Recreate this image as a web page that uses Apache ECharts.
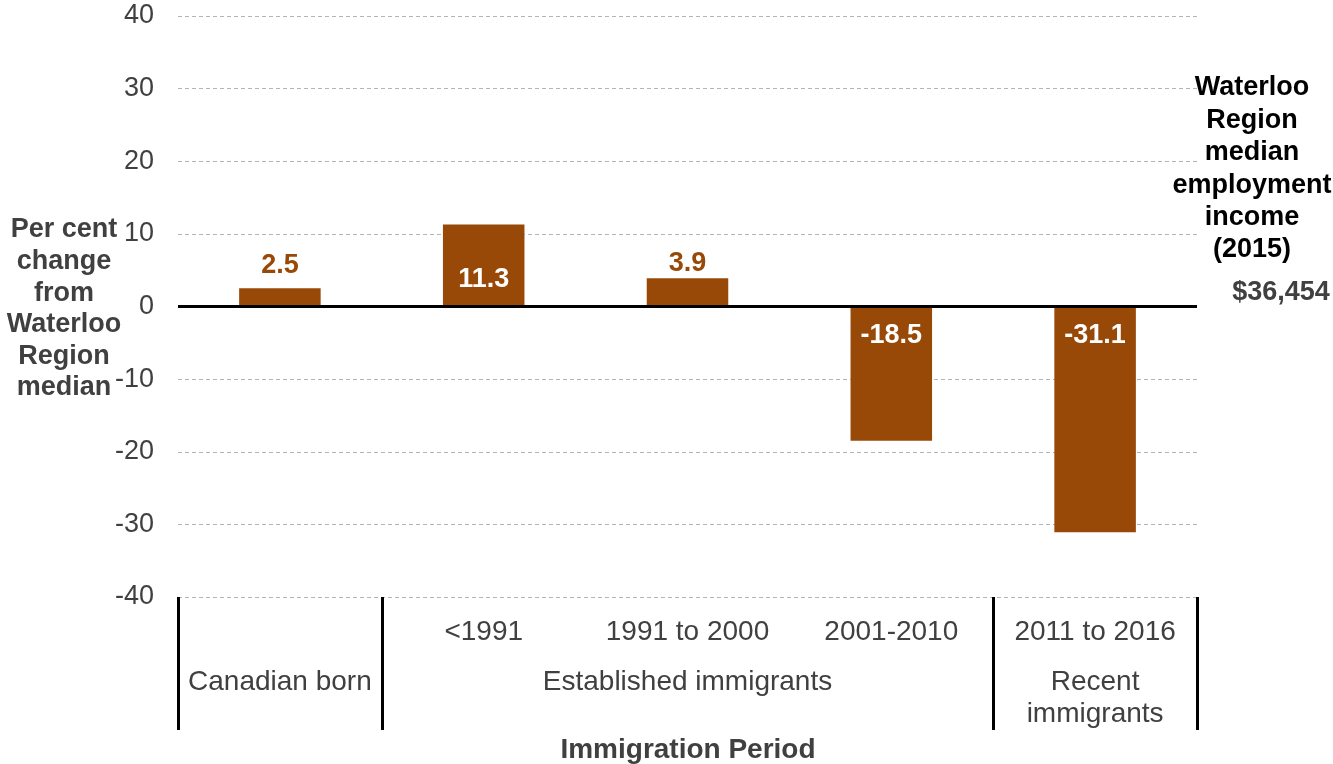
<!DOCTYPE html>
<html>
<head>
<meta charset="utf-8">
<script src="https://cdn.jsdelivr.net/npm/echarts@6/dist/echarts.min.js"></script>
<style>html,body{margin:0;padding:0;background:#fff;}#c{width:1333px;height:764px;}</style>
</head>
<body>
<div id="c"></div>
<script>
// ---- data ----
var periodLabels = ['', '<1991', '1991 to 2000', '2001-2010', '2011 to 2016'];
var groupLabels = ['Canadian born', '', 'Established immigrants', '', 'Recent\nimmigrants'];
var values = [2.5, 11.3, 3.9, -18.5, -31.1];
var yTicks = {min: -40, max: 40, interval: 10};
var yTitle = 'Per cent\nchange\nfrom\nWaterloo\nRegion\nmedian';
var rightTitle = 'Waterloo\nRegion\nmedian\nemployment\nincome\n(2015)';
var rightValue = '$36,454';
var xTitle = 'Immigration Period';

// ---- styling ----
var FONT = '"Liberation Sans", Arial, sans-serif';
var BROWN = '#984807';
var GREY = '#404040';
// label placement per bar (style only)
var labelStyles = [
  {position: 'top', color: BROWN, distance: 9},
  {position: 'insideBottom', color: '#ffffff', distance: 13},
  {position: 'top', color: BROWN, distance: 1},
  {position: 'insideTop', color: '#ffffff', distance: 16},
  {position: 'insideTop', color: '#ffffff', distance: 16}
];

var seriesData = values.map(function (v, i) {
  var ls = labelStyles[i];
  return {
    value: v,
    label: {show: true, position: ls.position, color: ls.color, distance: ls.distance}
  };
});

var chart = echarts.init(document.getElementById('c'), null, {renderer: 'canvas'});
chart.setOption({
  animation: false,
  backgroundColor: '#ffffff',
  textStyle: {fontFamily: FONT},
  grid: {left: 178, right: 136, top: 16, bottom: 167, containLabel: false},
  xAxis: [
    {
      type: 'category',
      data: periodLabels,
      position: 'bottom',
      axisLine: {show: false, onZero: false},
      axisTick: {
        show: true,
        length: 133,
        interval: function (idx) { return idx === 0 || idx === 1 || idx === 4; },
        lineStyle: {color: '#000000', width: 3}
      },
      axisLabel: {interval: 0, fontSize: 28, color: GREY, margin: 19, lineHeight: 32, fontFamily: FONT},
      splitLine: {show: false}
    },
    {
      type: 'category',
      data: groupLabels,
      position: 'bottom',
      offset: 50,
      axisLine: {show: false, onZero: false},
      axisTick: {show: false},
      axisLabel: {interval: 0, fontSize: 28, color: GREY, margin: 19, lineHeight: 32, fontFamily: FONT},
      splitLine: {show: false}
    }
  ],
  yAxis: {
    type: 'value',
    min: yTicks.min,
    max: yTicks.max,
    interval: yTicks.interval,
    axisLine: {show: false},
    axisTick: {show: false},
    axisLabel: {fontSize: 27, color: GREY, margin: 24, fontFamily: FONT},
    splitLine: {show: true, lineStyle: {color: '#b4b4b4', width: 1, type: [4, 3]}}
  },
  series: [{
    type: 'bar',
    xAxisIndex: 0,
    data: seriesData,
    barWidth: '40%',
    itemStyle: {color: BROWN},
    label: {show: true, fontSize: 27, fontWeight: 'bold', fontFamily: FONT},
    markLine: {
      silent: true,
      symbol: 'none',
      label: {show: false},
      lineStyle: {color: '#000000', width: 3, type: 'solid'},
      emphasis: {disabled: true},
      data: [{yAxis: 0}]
    }
  }],
  graphic: [
    {
      type: 'text', x: 64, y: 309,
      style: {text: yTitle, x: 0, y: 0, align: 'center', verticalAlign: 'middle',
        font: 'bold 27px ' + FONT, lineHeight: 31.6, fill: GREY}
    },
    {
      type: 'text', x: 1252, y: 169,
      style: {text: rightTitle, x: 0, y: 0, align: 'center', verticalAlign: 'middle',
        font: 'bold 27px ' + FONT, lineHeight: 32.4, fill: '#000000'}
    },
    {
      type: 'text', x: 1281, y: 293,
      style: {text: rightValue, x: 0, y: 0, align: 'center', verticalAlign: 'middle',
        font: 'bold 27px ' + FONT, fill: GREY}
    },
    {
      type: 'text', x: 688, y: 750,
      style: {text: xTitle, x: 0, y: 0, align: 'center', verticalAlign: 'middle',
        font: 'bold 28px ' + FONT, fill: GREY}
    }
  ]
});
</script>
</body>
</html>
